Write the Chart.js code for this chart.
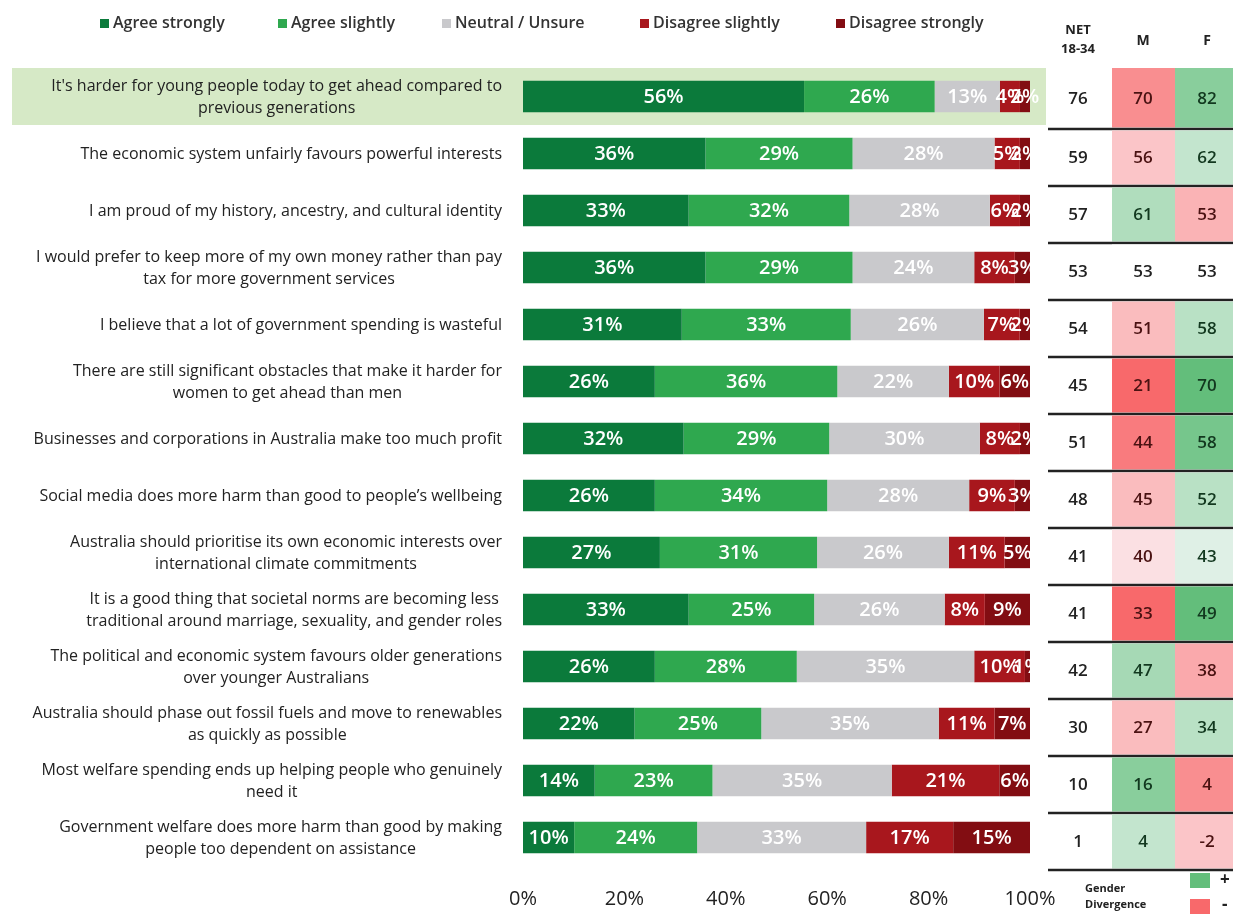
<!DOCTYPE html>
<html>
<head>
<meta charset="utf-8">
<script src="https://cdn.jsdelivr.net/npm/chart.js@4.4.1/dist/chart.umd.min.js"></script>
<style>
  body { margin: 0; background: #fff; }
  #wrap { position: relative; width: 1233px; height: 916px; }
  .leg { position: absolute; top: 11px; font: 600 16px "Open Sans", sans-serif; color: #333; white-space: nowrap; }
  .leg i { display: inline-block; width: 9px; height: 9px; margin-right: 4px; vertical-align: 0px; }
</style>
</head>
<body>
<div id="wrap">
  <canvas id="ctx-survey" width="1233" height="916"></canvas>
</div>
<script>
const categories = [
  ["It's harder for young people today to get ahead compared to", "previous generations"],
  "The economic system unfairly favours powerful interests",
  "I am proud of my history, ancestry, and cultural identity",
  ["I would prefer to keep more of my own money rather than pay", "tax for more government services"],
  "I believe that a lot of government spending is wasteful",
  ["There are still significant obstacles that make it harder for", "women to get ahead than men"],
  "Businesses and corporations in Australia make too much profit",
  "Social media does more harm than good to people\u2019s wellbeing",
  ["Australia should prioritise its own economic interests over", "international climate commitments"],
  ["It is a good thing that societal norms are becoming less", "traditional around marriage, sexuality, and gender roles"],
  ["The political and economic system favours older generations", "over younger Australians"],
  ["Australia should phase out fossil fuels and move to renewables", "as quickly as possible"],
  ["Most welfare spending ends up helping people who genuinely", "need it"],
  ["Government welfare does more harm than good by making", "people too dependent on assistance"]
];

const seriesNames = ['Agree strongly', 'Agree slightly', 'Neutral / Unsure', 'Disagree slightly', 'Disagree strongly'];
const agreeStrongly    = [56, 36, 33, 36, 31, 26, 32, 26, 27, 33, 26, 22, 14, 10];
const agreeSlightly    = [26, 29, 32, 29, 33, 36, 29, 34, 31, 25, 28, 25, 23, 24];
const neutralUnsure    = [13, 28, 28, 24, 26, 22, 30, 28, 26, 26, 35, 35, 35, 33];
const disagreeSlightly = [4, 5, 6, 8, 7, 10, 8, 9, 11, 8, 10, 11, 21, 17];
const disagreeStrongly = [2, 2, 2, 3, 2, 6, 2, 3, 5, 9, 1, 7, 6, 15];

const netValues    = [76, 59, 57, 53, 54, 45, 51, 48, 41, 41, 42, 30, 10, 1];
const maleValues   = [70, 56, 61, 53, 51, 21, 44, 45, 40, 33, 47, 27, 16, 4];
const femaleValues = [82, 62, 53, 53, 58, 70, 58, 52, 43, 49, 38, 34, 4, -2];
const tableHeaders = [['NET', '18-34'], ['M'], ['F']];

const colors = ['#0b7a3b', '#2fa84f', '#c9c9cc', '#a8171d', '#820d12'];
const FONT = '"Open Sans", sans-serif';

const allSeries = [agreeStrongly, agreeSlightly, neutralUnsure, disagreeSlightly, disagreeStrongly];
// each bar is drawn as a share of its row total, so every row fills 0-100%
const rowTotals = agreeStrongly.map((_, i) => allSeries.reduce((s, d) => s + d[i], 0));

// html legend
const legendX = [100, 278, 442, 640, 836];
const wrap = document.getElementById('wrap');
seriesNames.forEach((n, i) => {
  let s = document.createElement('span');
  s.className = 'leg';
  s.style.left = legendX[i] + 'px';
  s.innerHTML = '<i style="background:' + colors[i] + '"></i>' + n;
  wrap.appendChild(s);
});

const mix = (hex, t) => {
  const a = [252, 252, 255];
  const b = [parseInt(hex.slice(1, 3), 16), parseInt(hex.slice(3, 5), 16), parseInt(hex.slice(5, 7), 16)];
  return 'rgb(' + a.map((v, k) => Math.round(v + (b[k] - v) * t)).join(',') + ')';
};

const highlightRow = {
  id: 'highlightRow',
  beforeDatasetsDraw(chart) {
    const { ctx, scales: { y } } = chart;
    const yc = y.getPixelForValue(0);
    ctx.save();
    ctx.fillStyle = '#d6e9c6';
    ctx.fillRect(12, yc - 28.5, 1034, 57);
    ctx.restore();
  }
};

const categoryLabels = {
  id: 'categoryLabels',
  afterDraw(chart) {
    const { ctx, scales: { y } } = chart;
    ctx.save();
    ctx.font = '16px ' + FONT;
    ctx.fillStyle = '#222';
    ctx.textAlign = 'center';
    ctx.textBaseline = 'middle';
    categories.forEach((c, i) => {
      const lines = Array.isArray(c) ? c : [c];
      const w = Math.max(...lines.map(l => ctx.measureText(l).width));
      const cx = 502 - w / 2;
      const yc = y.getPixelForValue(i) + 1;
      lines.forEach((l, j) => {
        ctx.fillText(l, cx, yc + (j - (lines.length - 1) / 2) * 22);
      });
    });
    ctx.restore();
  }
};

const segmentLabels = {
  id: 'segmentLabels',
  afterDatasetsDraw(chart) {
    const { ctx } = chart;
    ctx.save();
    ctx.font = '600 20px ' + FONT;
    ctx.fillStyle = '#fff';
    ctx.textAlign = 'center';
    ctx.textBaseline = 'middle';
    chart.data.datasets.forEach((ds, di) => {
      chart.getDatasetMeta(di).data.forEach((bar, i) => {
        const cx = (bar.x + bar.base) / 2;
        ctx.fillText(allSeries[di][i] + '%', cx, bar.y + 1);
      });
    });
    ctx.restore();
  }
};

const sideTable = {
  id: 'sideTable',
  afterDraw(chart) {
    const { ctx, scales: { y } } = chart;
    const colX = [1078, 1143, 1207];
    const cellL = [1048, 1112, 1175];
    const cellR = [1112, 1175, 1233];
    ctx.save();
    // header
    ctx.fillStyle = '#222';
    ctx.textAlign = 'center';
    ctx.textBaseline = 'middle';
    ctx.font = 'bold 13px ' + FONT;
    ctx.fillText(tableHeaders[0][0], colX[0], 30);
    ctx.fillText(tableHeaders[0][1], colX[0], 49);
    ctx.font = 'bold 14px ' + FONT;
    ctx.fillText(tableHeaders[1][0], colX[1], 41);
    ctx.fillText(tableHeaders[2][0], colX[2], 41);

    let prevLine = y.getPixelForValue(0) - 30;
    netValues.forEach((net, i) => {
      const yc = y.getPixelForValue(i);
      const line = yc + 32.5;
      const diff = femaleValues[i] - maleValues[i];
      const t = Math.min(Math.abs(diff) / 16, 1);
      const mCol = diff === 0 ? '#fff' : (diff > 0 ? mix('#f8696b', t) : mix('#63be7b', t));
      const fCol = diff === 0 ? '#fff' : (diff > 0 ? mix('#63be7b', t) : mix('#f8696b', t));
      const top = prevLine + 1.5, bot = line - 1.5;
      ctx.fillStyle = mCol;
      ctx.fillRect(cellL[1], top, cellR[1] - cellL[1], bot - top);
      ctx.fillStyle = fCol;
      ctx.fillRect(cellL[2], top, cellR[2] - cellL[2], bot - top);
      ctx.font = '600 17px ' + FONT;
      ctx.fillStyle = '#222';
      const ty = (top + bot) / 2 + 1;
      ctx.fillText(String(net), colX[0], ty);
      ctx.fillStyle = diff < 0 ? '#12381f' : (diff > 0 ? '#4a1212' : '#222');
      ctx.fillText(String(maleValues[i]), colX[1], ty);
      ctx.fillStyle = diff > 0 ? '#12381f' : (diff < 0 ? '#4a1212' : '#222');
      ctx.fillText(String(femaleValues[i]), colX[2], ty);
      ctx.fillStyle = '#222';
      ctx.fillRect(1048, line - 1.25, 185, 2.5);
      prevLine = line;
    });

    // gender divergence key
    ctx.textAlign = 'left';
    ctx.font = 'bold 11px ' + FONT;
    ctx.fillStyle = '#222';
    ctx.fillText('Gender', 1085, 889);
    ctx.fillText('Divergence', 1085, 905);
    ctx.fillStyle = '#63be7b';
    ctx.fillRect(1190, 873, 20, 15);
    ctx.fillStyle = '#f8696b';
    ctx.fillRect(1190, 899, 20, 15);
    ctx.fillStyle = '#222';
    ctx.font = 'bold 17px ' + FONT;
    ctx.fillText('+', 1220, 880);
    ctx.fillText('-', 1222, 905);
    ctx.restore();
  }
};

const chart = new Chart(document.getElementById('ctx-survey'), {
  type: 'bar',
  data: {
    labels: categories,
    datasets: allSeries.map((d, i) => ({
      label: seriesNames[i],
      data: d.map((v, r) => v / rowTotals[r] * 100),
      backgroundColor: colors[i],
      categoryPercentage: 1,
      barPercentage: 0.55
    }))
  },
  options: {
    responsive: false,
    animation: false,
    indexAxis: 'y',
    layout: { padding: { top: 68, right: 203, bottom: 4, left: 0 } },
    plugins: {
      legend: { display: false },
      tooltip: { enabled: false }
    },
    scales: {
      x: {
        stacked: true,
        min: 0,
        max: 100,
        grid: { display: false, drawTicks: false },
        border: { display: false },
        ticks: {
          stepSize: 20,
          padding: 21,
          color: '#222',
          font: { family: FONT, size: 20 },
          callback: v => v + '%'
        },
        afterFit: (scale) => { scale.height = 46; }
      },
      y: {
        stacked: true,
        grid: { display: false },
        border: { display: false },
        ticks: { display: false },
        afterFit: (scale) => { scale.width = 523; }
      }
    }
  },
  plugins: [highlightRow, categoryLabels, segmentLabels, sideTable]
});
</script>
</body>
</html>
